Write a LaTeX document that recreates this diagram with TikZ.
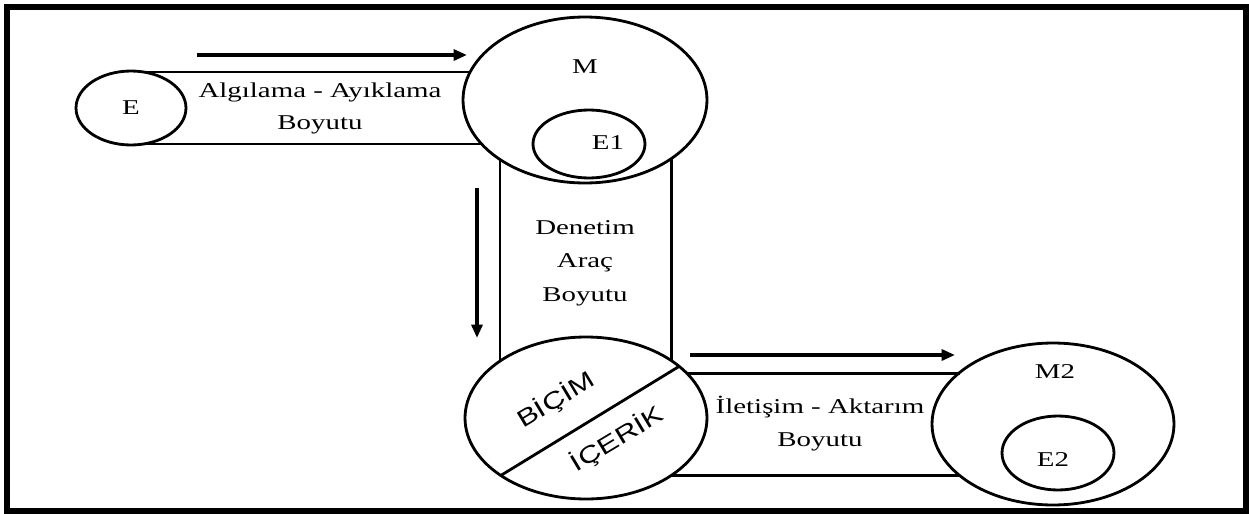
\documentclass[tikz,border=0pt]{standalone}
\usepackage{fontspec}
\setmainfont{Liberation Serif}
\setsansfont{Liberation Sans}
\usepackage{tikz}
\usetikzlibrary{positioning, arrows.meta}
\usetikzlibrary{shapes.geometric}
\newcommand{\wide}[1]{\scalebox{1.37}[1]{#1}}
\newcommand{\slant}[1]{\scalebox{1.3}[1]{#1}}

\tikzset{
	zone/.style={draw, ellipse, line width=1.6pt, inner sep=0pt, outer sep=0pt, font=\fontsize{12}{14}\selectfont},
	band/.style={line width=1.6pt},
	flow/.style={line width=2pt, -{Triangle[length=0.27cm, width=0.22cm]}},
	lbl/.style={font=\fontsize{12}{14}\selectfont, inner sep=0pt},
	cut/.style={font=\fontsize{13.5}{15}\selectfont\sffamily, inner sep=0pt, rotate=31}
}

\begin{document}
\begin{tikzpicture}[x=0.02cm, y=-0.02cm]
	\useasboundingbox (0,0) rectangle (1249,514);
	\draw[line width=0.12cm] (7,7) rectangle (1246,511);
	
	% zones
	\node[zone, minimum width=2.2cm, minimum height=1.48cm] (E) at (131,108) {\wide{E}};
	\node[zone, minimum width=4.88cm, minimum height=3.32cm] (M) at (585,100) {};
	\node[zone, minimum width=2.24cm, minimum height=1.36cm] (E1) at (589,144) {};
	\node[zone, minimum width=4.84cm, minimum height=3.24cm] (BC) at (586,418) {};
	\node[zone, minimum width=4.84cm, minimum height=3.24cm] (M2) at (1053,424) {};
	\node[zone, minimum width=2.24cm, minimum height=1.48cm] (E2) at (1058,453) {};
	
	\node[lbl] (Mtxt) at (585,67) {\wide{M}};
	\node[lbl] (E1txt) at (608,143) {\wide{E1}};
	\node[lbl] (M2txt) at (1055,372) {\wide{M2}};
	\node[lbl] (E2txt) at (1053,460) {\wide{E2}};
	
	% bands
	\draw[band] (E.70) -- (E.70 -| M.166);
	\draw[band] (E.290) -- (E.290 -| M.204);
	\draw[band] (M.215) -- (M.215 |- BC.146);
	\draw[band] (M.326) -- (M.326 |- BC.34);
	\draw[band] (BC.24) -- (BC.24 -| M2.151);
	\draw[band] (BC.326) -- (BC.326 -| M2.209);
	\draw[band] (BC.214) -- (BC.29);
	
	\node[lbl] (alg) at (320,92) {\wide{Algılama - Ayıklama}};
	\node[lbl] (boy1) at (320,125) {\wide{Boyutu}};
	\node[lbl] (den) at (585,228) {\wide{Denetim}};
	\node[lbl] (arac) at (585,263) {\wide{Araç}};
	\node[lbl] (boy2) at (585,297) {\wide{Boyutu}};
	\node[lbl] (ile) at (820,407) {\wide{İletişim - Aktarım}};
	\node[lbl] (boy3) at (820,442) {\wide{Boyutu}};
	
	\node[cut] (bicim) at (556,400) {\slant{BİÇİM}};
	\node[cut] (icerik) at (617,439) {\slant{İÇERİK}};
	
	% arrows
	\coordinate (a1s) at (197,55);
	\coordinate (a1e) at (467,55);
	\coordinate (a2s) at (477,188);
	\coordinate (a2e) at (477,338);
	\coordinate (a3s) at (690,355);
	\coordinate (a3e) at (955,355);
	\draw[flow] (a1s) -- (a1e);
	\draw[flow] (a2s) -- (a2e);
	\draw[flow] (a3s) -- (a3e);
\end{tikzpicture}
\end{document}
